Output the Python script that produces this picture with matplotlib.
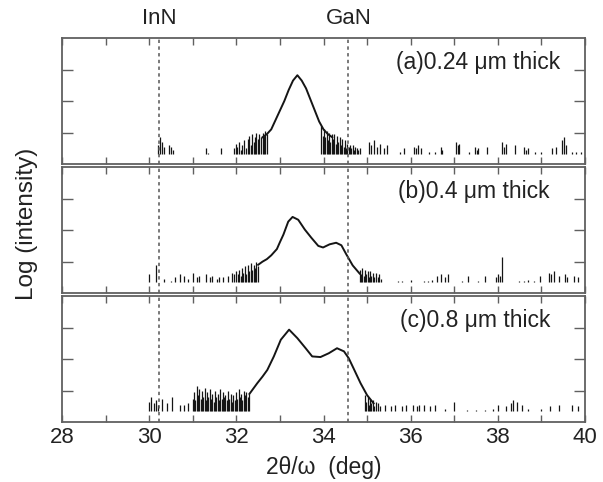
import matplotlib
matplotlib.use("Agg")
import matplotlib.pyplot as plt

plt.rcParams['font.family'] = ['Liberation Sans', 'DejaVu Sans']

# reference lines
inn_pos = 30.22
gan_pos = 34.57

# panel labels
labels = ['(a)0.24 \u03bcm thick', '(b)0.4 \u03bcm thick', '(c)0.8 \u03bcm thick']

# smooth part of each scan (2theta, log intensity in tick units)
a_x = [32.6, 32.7, 32.8, 32.9, 33.0, 33.1, 33.2, 33.3, 33.4, 33.5, 33.6, 33.7,
       33.8, 33.9, 34.0, 34.1, 34.2]
a_y = [0.85, 0.95, 1.1, 1.4, 1.7, 2.0, 2.35, 2.65, 2.82, 2.65, 2.4, 2.05,
       1.7, 1.35, 1.1, 0.95, 0.85]

b_x = [32.5, 32.6, 32.7, 32.8, 32.93, 33.0, 33.08, 33.19, 33.29, 33.42, 33.57,
       33.72, 33.88, 33.99, 34.14, 34.29, 34.41, 34.52, 34.67, 34.83]
b_y = [0.9, 1.0, 1.08, 1.2, 1.4, 1.62, 1.86, 2.27, 2.42, 2.33, 2.02,
       1.76, 1.5, 1.45, 1.55, 1.6, 1.52, 1.24, 0.88, 0.62]

c_x = [32.3, 32.48, 32.6, 32.71, 32.86, 33.02, 33.21, 33.4, 33.59, 33.74, 33.93,
       34.12, 34.31, 34.47, 34.58, 34.69, 34.85, 35.0, 35.15]
c_y = [0.9, 1.24, 1.45, 1.66, 2.09, 2.62, 2.94, 2.67, 2.35, 2.09, 2.07,
       2.19, 2.35, 2.25, 2.03, 1.71, 1.24, 0.86, 0.6]

# noisy counts near background: spike positions and tops
a_sx = [30.2, 30.25, 30.3, 30.35, 30.45, 30.5, 30.55, 31.3, 31.35, 31.65,
        31.95, 31.98, 32.02, 32.06, 32.1, 32.14, 32.18, 32.22, 32.26, 32.3, 32.33,
        32.36, 32.4, 32.43, 32.46, 32.5, 32.53, 32.56, 32.6, 32.63, 32.66, 32.7,
        33.95, 33.98, 34.01, 34.04, 34.07, 34.1, 34.13, 34.16, 34.19, 34.22, 34.25,
        34.28, 34.31, 34.34, 34.37, 34.4, 34.43, 34.46, 34.49, 34.52, 34.55, 34.58,
        34.61, 34.64, 34.67, 34.7, 34.73, 34.76, 34.8, 34.84,
        35.05, 35.1, 35.17, 35.22, 35.3, 35.38, 35.45, 35.75, 35.85, 36.08, 36.13, 36.18,
        36.23, 36.42, 36.55, 36.69, 36.73, 37.04, 37.08, 37.12, 37.35, 37.47, 37.52,
        37.55, 37.75, 38.1, 38.15, 38.2, 38.4, 38.6, 38.65, 38.7, 38.85, 39.0,
        39.25, 39.33, 39.48, 39.52, 39.56, 39.7, 39.8, 39.9]
a_st = [0.6, 0.85, 0.7, 0.55, 0.6, 0.55, 0.45, 0.5, 0.35, 0.5,
        0.5, 0.65, 0.55, 0.7, 0.45, 0.6, 0.75, 0.5, 0.8, 0.9, 0.6,
        0.95, 0.7, 0.85, 1.0, 0.8, 0.95, 0.85, 1.0, 0.9, 1.05, 0.95,
        1.2, 0.9, 1.1, 0.85, 1.05, 0.75, 1.0, 0.7, 0.95, 0.8, 0.95,
        0.65, 0.9, 0.7, 0.85, 0.6, 0.8, 0.55, 0.75, 0.5, 0.65, 0.55,
        0.6, 0.5, 0.6, 0.45, 0.55, 0.5, 0.45, 0.5,
        0.7, 0.6, 0.75, 0.55, 0.65, 0.5, 0.6, 0.38, 0.5, 0.55, 0.5, 0.6,
        0.5, 0.38, 0.38, 0.55, 0.45, 0.7, 0.6, 0.65, 0.38, 0.55, 0.45,
        0.5, 0.55, 0.7, 0.55, 0.65, 0.6, 0.55, 0.45, 0.5, 0.38, 0.38,
        0.5, 0.55, 0.75, 0.85, 0.6, 0.38, 0.38, 0.38]

b_sx = [30.0, 30.15, 30.35, 30.5, 30.6, 30.7, 30.8, 30.9, 31.0, 31.1, 31.15,
        31.3, 31.4, 31.45, 31.55, 31.6, 31.7, 31.8, 31.9, 31.95, 32.0, 32.03,
        32.06, 32.1, 32.13, 32.16, 32.2, 32.23, 32.26, 32.3, 32.33, 32.36, 32.4,
        32.43, 32.46, 32.5,
        34.83, 34.86, 34.89, 34.92, 34.95, 34.98, 35.01, 35.04, 35.07, 35.1,
        35.13, 35.16, 35.2, 35.24, 35.28, 35.32,
        35.7, 35.8, 36.0, 36.3, 36.4, 36.5, 36.6, 36.7, 36.8, 36.85, 37.17,
        37.32, 37.55, 37.7, 37.95, 38.0, 38.05, 38.1, 38.48, 38.6, 38.7, 38.82,
        38.98, 39.17, 39.22, 39.3, 39.4, 39.55, 39.6, 39.75, 39.85]
b_st = [0.6, 0.9, 0.45, 0.4, 0.5, 0.6, 0.55, 0.45, 0.65, 0.5, 0.55,
        0.6, 0.5, 0.55, 0.45, 0.5, 0.5, 0.55, 0.65, 0.6, 0.7, 0.6,
        0.75, 0.55, 0.8, 0.65, 0.85, 0.6, 0.9, 0.7, 0.95, 0.75, 0.9,
        0.8, 1.0, 0.85,
        0.75, 0.6, 0.8, 0.55, 0.75, 0.6, 0.7, 0.5, 0.7, 0.55,
        0.65, 0.5, 0.65, 0.5, 0.6, 0.45,
        0.4, 0.4, 0.42, 0.4, 0.4, 0.42, 0.55, 0.6, 0.5, 0.6, 0.4,
        0.55, 0.4, 0.55, 0.5, 0.6, 0.55, 1.15, 0.4, 0.4, 0.42, 0.4,
        0.55, 0.65, 0.6, 0.7, 0.55, 0.6, 0.5, 0.55, 0.5]

c_sx = [30.0, 30.05, 30.1, 30.15, 30.2, 30.3, 30.4, 30.53, 30.7, 30.8, 30.9,
        31.0, 31.03, 31.06, 31.09, 31.12, 31.15, 31.18, 31.21, 31.24, 31.27, 31.3,
        31.33, 31.36, 31.39, 31.42, 31.45, 31.48, 31.51, 31.54, 31.57, 31.6, 31.63,
        31.66, 31.69, 31.72, 31.75, 31.78, 31.81, 31.84, 31.87, 31.9, 31.93, 31.96,
        31.99, 32.02, 32.05, 32.08, 32.11, 32.14, 32.17, 32.2, 32.23, 32.26, 32.3,
        34.95, 34.98, 35.01, 35.04, 35.07, 35.1, 35.13, 35.16, 35.2,
        35.25, 35.3, 35.4, 35.55, 35.65, 35.8, 35.9, 36.05, 36.15, 36.2,
        36.3, 36.45, 36.55, 36.8, 37.0, 37.3, 37.5, 37.7, 37.9, 38.0, 38.2,
        38.3, 38.35, 38.45, 38.55, 38.7, 39.0, 39.2, 39.4, 39.7, 39.85]
c_st = [0.65, 0.8, 0.6, 0.7, 0.55, 0.75, 0.6, 0.8, 0.55, 0.55, 0.6,
        0.75, 0.95, 0.7, 1.15, 0.85, 1.05, 0.75, 1.0, 0.8, 1.1, 0.7,
        0.95, 0.8, 1.05, 0.75, 0.9, 0.65, 1.0, 0.8, 0.9, 0.7, 1.05,
        0.75, 0.95, 0.8, 0.85, 0.7, 1.0, 0.75, 0.9, 0.65, 0.85, 0.7,
        0.95, 0.75, 1.05, 0.8, 0.9, 0.7, 1.0, 0.85, 0.95, 0.8, 0.9,
        0.85, 0.65, 0.8, 0.55, 0.75, 0.6, 0.7, 0.5, 0.65,
        0.6, 0.5, 0.55, 0.5, 0.55, 0.5, 0.55, 0.55, 0.5, 0.55,
        0.55, 0.5, 0.55, 0.42, 0.65, 0.4, 0.4, 0.4, 0.42, 0.55, 0.5,
        0.6, 0.7, 0.65, 0.55, 0.42, 0.42, 0.5, 0.55, 0.55, 0.5]

curves = [(a_x, a_y), (b_x, b_y), (c_x, c_y)]
spikes = [(a_sx, a_st), (b_sx, b_st), (c_sx, c_st)]
bases = [0.32, 0.36, 0.36]
text_right = [0.952, 0.933, 0.933]

fig = plt.figure(figsize=(6.03, 4.82), dpi=100)
gs = fig.add_gridspec(3, 1, left=0.103, right=0.970, bottom=0.124, top=0.921,
                      hspace=0.025)
axes = [fig.add_subplot(gs[i]) for i in range(3)]

spine_col = '#606060'
ink = '#151515'

for i, ax in enumerate(axes):
    cx, cy = curves[i]
    sx, st = spikes[i]
    ax.vlines(sx, bases[i], st, color=ink, lw=0.9)
    ax.plot(cx, cy, color=ink, lw=1.4)
    ax.axvline(inn_pos, color='#555555', lw=1.1, ls=(0, (2.2, 2.2)))
    ax.axvline(gan_pos, color='#555555', lw=1.1, ls=(0, (2.2, 2.2)))

    ax.set_xlim(28, 40)
    ax.set_ylim(0, 4)
    ax.set_xticks(range(28, 41))
    ax.set_yticks([1, 2, 3])
    ax.set_yticklabels([])
    ax.tick_params(axis='x', direction='in', top=True, length=5, width=1,
                   color=spine_col)
    ax.tick_params(axis='y', direction='in', right=True, length=8, width=1,
                   color=spine_col)
    for sp in ax.spines.values():
        sp.set_color(spine_col)
        sp.set_linewidth(1.3)
    if i < 2:
        ax.set_xticklabels([])
    else:
        ax.set_xticklabels([str(v) if v % 2 == 0 else '' for v in range(28, 41)],
                           fontsize=16, color='#222222')
        ax.set_xlabel('2\u03b8/\u03c9  (deg)', fontsize=16.5, color='#222222',
                      labelpad=6)
    ax.text(text_right[i], 0.81, labels[i], transform=ax.transAxes, ha='right',
            va='center', fontsize=16.5, color='#222222')

axes[0].text(inn_pos, 4.3, 'InN', ha='center', va='bottom', fontsize=16,
             color='#222222')
axes[0].text(gan_pos, 4.3, 'GaN', ha='center', va='bottom', fontsize=16,
             color='#222222')

fig.text(0.045, 0.535, 'Log (intensity)', rotation=90, ha='center', va='center',
         fontsize=17.5, color='#222222')

fig.savefig('out.png', dpi=100)
